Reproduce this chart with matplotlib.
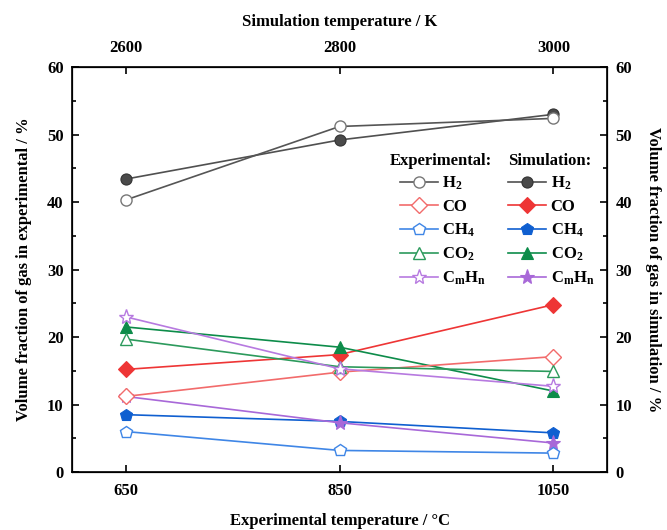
import matplotlib
matplotlib.use("Agg")
import matplotlib.pyplot as plt

plt.rcParams["font.family"] = "Liberation Serif"
plt.rcParams["font.weight"] = "bold"
plt.rcParams["axes.labelweight"] = "bold"
plt.rcParams["mathtext.fontset"] = "custom"
plt.rcParams["mathtext.bf"] = "Liberation Serif:bold"
plt.rcParams["mathtext.rm"] = "Liberation Serif:bold"
plt.rcParams["mathtext.default"] = "bf"

TEMP_EXP = [650, 850, 1050]
TEMP_SIM = [2600, 2800, 3000]

EXP = {
    "H2": [40.3, 51.2, 52.4],
    "CO": [11.2, 14.8, 17.1],
    "CH4": [6.0, 3.2, 2.8],
    "CO2": [19.7, 15.6, 14.9],
    "CmHn": [23.0, 15.3, 12.7],
}

SIM = {
    "H2": [43.4, 49.2, 53.0],
    "CO": [15.2, 17.4, 24.8],
    "CH4": [8.5, 7.5, 5.8],
    "CO2": [21.5, 18.5, 12.0],
    "CmHn": [11.2, 7.3, 4.3],
}

GASES = ["H2", "CO", "CH4", "CO2", "CmHn"]
LABELS = {
    "H2": "H$_2$",
    "CO": "CO",
    "CH4": "CH$_4$",
    "CO2": "CO$_2$",
    "CmHn": "C$_m$H$_n$",
}
MARKERS = {"H2": "o", "CO": "D", "CH4": "p", "CO2": "^", "CmHn": "*"}
MSIZE = {"H2": 8, "CO": 8, "CH4": 9, "CO2": 9, "CmHn": 11}
EXP_COLORS = {
    "H2": "#555555",
    "CO": "#f26b6b",
    "CH4": "#3f86e6",
    "CO2": "#2c9a5c",
    "CmHn": "#b77ae0",
}
SIM_COLORS = {
    "H2": "#505050",
    "CO": "#ee3535",
    "CH4": "#0f5fd0",
    "CO2": "#0d8c4a",
    "CmHn": "#a868d8",
}

fig = plt.figure(figsize=(6.67, 5.30), dpi=100)
ax = fig.add_axes([0.108, 0.1094, 0.802, 0.764])

sim_handles = []
exp_handles = []
for g in GASES:
    (h,) = ax.plot(
        TEMP_EXP, SIM[g],
        color=SIM_COLORS[g], lw=1.2,
        marker=MARKERS[g], ms=MSIZE[g],
        mfc=SIM_COLORS[g] if g != "H2" else "#4a4a4a",
        mec=SIM_COLORS[g] if g != "H2" else "#333333",
        mew=0.8, zorder=3,
    )
    sim_handles.append(h)
for g in GASES:
    (h,) = ax.plot(
        TEMP_EXP, EXP[g],
        color=EXP_COLORS[g], lw=1.2,
        marker=MARKERS[g], ms=MSIZE[g],
        mfc="white", mec=EXP_COLORS[g] if g != "H2" else "#777777",
        mew=1.0, zorder=4,
    )
    exp_handles.append(h)

ax.set_xlim(600, 1100)
ax.set_ylim(0, 60)
ax.set_xticks(TEMP_EXP)
ax.set_yticks(range(0, 61, 10))
ax.set_yticks(range(5, 60, 10), minor=True)
ax.tick_params(axis="both", which="both", direction="in", labelsize=12, width=1.2)
ax.tick_params(which="major", length=5)
ax.tick_params(which="minor", length=3)
ax.tick_params(axis="x", pad=8)
ax.tick_params(axis="y", pad=6)
for s in ax.spines.values():
    s.set_linewidth(1.2)

ax.set_xlabel("Experimental temperature / \u00b0C", fontsize=12, labelpad=10)
ax.set_ylabel("Volume fraction of gas in experimental / %", fontsize=12, labelpad=11)

# right axis mirrors the left one
ax_r = ax.twinx()
ax_r.set_ylim(0, 60)
ax_r.set_yticks(range(0, 61, 10))
ax_r.set_yticks(range(5, 60, 10), minor=True)
ax_r.tick_params(axis="y", which="both", direction="in", labelsize=12, width=1.2, pad=6)
ax_r.tick_params(which="major", length=5)
ax_r.tick_params(which="minor", length=3)
ax_r.set_ylabel("Volume fraction of gas in simulation / %", fontsize=12,
                rotation=270, labelpad=21)

# top axis: simulation temperature
ax_t = ax.twiny()
ax_t.set_xlim(ax.get_xlim())
ax_t.set_xticks(TEMP_EXP)
ax_t.set_xticklabels([str(t) for t in TEMP_SIM])
ax_t.tick_params(axis="x", direction="in", labelsize=12, width=1.2, length=5, pad=8)
ax_t.set_xlabel("Simulation temperature / K", fontsize=12, labelpad=10)

leg_kw = dict(
    loc="upper left", frameon=False, fontsize=12, handlelength=2.3,
    handletextpad=0.25, labelspacing=0.4, borderaxespad=0, borderpad=0,
)
leg_exp = ax.legend(exp_handles, [LABELS[g] for g in GASES],
                    bbox_to_anchor=(0.613, 0.734), **leg_kw)
ax.add_artist(leg_exp)
ax.legend(sim_handles, [LABELS[g] for g in GASES],
          bbox_to_anchor=(0.815, 0.734), **leg_kw)
ax.text(0.594, 0.768, "Experimental:", transform=ax.transAxes,
        fontsize=12, ha="left", va="center")
ax.text(0.815, 0.768, "Simulation:", transform=ax.transAxes,
        fontsize=12, ha="left", va="center")

fig.savefig("out.png", dpi=100)
